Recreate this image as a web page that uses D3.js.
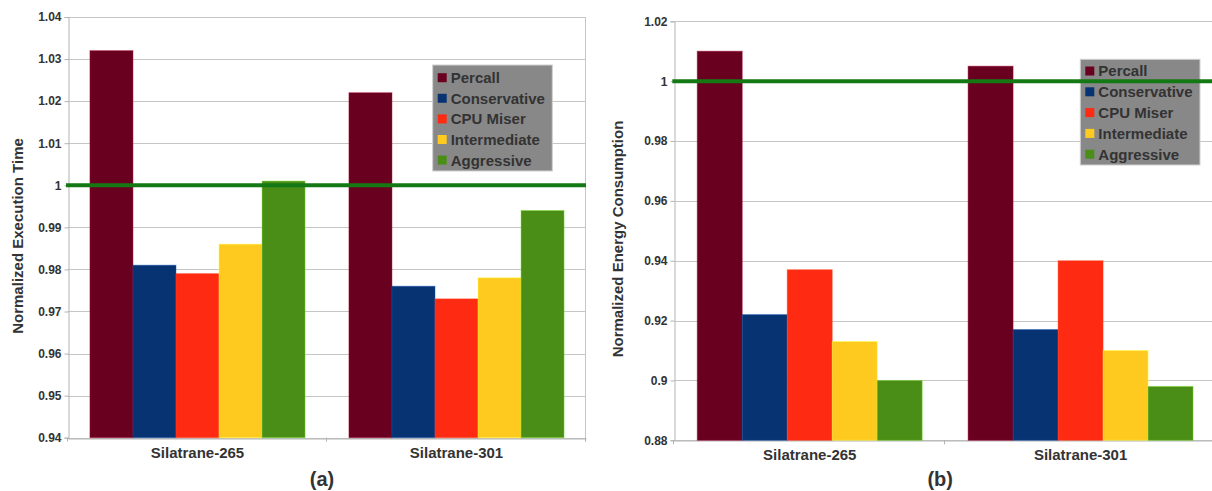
<!DOCTYPE html>
<html>
<head>
<meta charset="utf-8">
<script src="https://cdn.jsdelivr.net/npm/d3@7"></script>
<style>
  html, body { margin: 0; padding: 0; background: #ffffff; }
  svg { display: block; font-family: "Liberation Sans", Arial, sans-serif; font-weight: bold; }
</style>
</head>
<body>
<div id="chart"></div>
<script>
// data
const categories = ["Silatrane-265", "Silatrane-301"];
const seriesNames = ["Percall", "Conservative", "CPU Miser", "Intermediate", "Aggressive"];
const seriesColors = ["#69001f", "#073372", "#ff2a12", "#ffca1f", "#4a8e17"];
const timeValues = [
    [1.032, 0.981, 0.979, 0.986, 1.001],
    [1.022, 0.976, 0.973, 0.978, 0.994]
];
const energyValues = [
    [1.010, 0.922, 0.937, 0.913, 0.900],
    [1.005, 0.917, 0.940, 0.910, 0.898]
];
const timeTicks = [0.94, 0.95, 0.96, 0.97, 0.98, 0.99, 1, 1.01, 1.02, 1.03, 1.04];
const energyTicks = [0.88, 0.9, 0.92, 0.94, 0.96, 0.98, 1, 1.02];
const baseline = 1;

const width = 1212;
const height = 491;
const textColor = "#333333";

const svg = d3.select("#chart")
    .append("svg")
    .attr("width", width)
    .attr("height", height);

function drawPanel(cfg) {
    const g = svg.append("g");

    const y = d3.scaleLinear()
        .domain([cfg.ticks[0], cfg.ticks[cfg.ticks.length - 1]])
        .range([cfg.bottom, cfg.top]);

    const x = d3.scaleBand()
        .domain(categories)
        .range([cfg.left, cfg.right])
        .paddingInner(0)
        .paddingOuter(0);

    const xInner = d3.scaleBand()
        .domain(seriesNames)
        .range([0, x.bandwidth()])
        .paddingInner(0)
        .paddingOuter(0.51);

    // clip everything to the window
    // gridlines
    g.append("g")
        .selectAll("line")
        .data(cfg.ticks)
        .enter()
        .append("line")
        .attr("x1", cfg.left)
        .attr("x2", cfg.right)
        .attr("y1", d => Math.round(y(d)) + 0.5)
        .attr("y2", d => Math.round(y(d)) + 0.5)
        .attr("stroke", "#c6c6c6")
        .attr("stroke-width", 1);

    // right border
    g.append("line")
        .attr("x1", Math.round(cfg.right) - 0.5)
        .attr("x2", Math.round(cfg.right) - 0.5)
        .attr("y1", cfg.top)
        .attr("y2", cfg.bottom + 4)
        .attr("stroke", "#c6c6c6");

    // y axis
    const yAxis = g.append("g")
        .attr("transform", `translate(${Math.round(cfg.left) + 0.5},0)`)
        .call(d3.axisLeft(y)
            .tickValues(cfg.ticks)
            .tickSize(4)
            .tickPadding(3)
            .tickFormat(d => String(+d.toFixed(2))));
    yAxis.select(".domain").attr("stroke", "#b3b3b3");
    yAxis.selectAll(".tick line").attr("stroke", "#b3b3b3");
    yAxis.selectAll(".tick text")
        .attr("fill", textColor)
        .style("font-size", "12px")
        .style("font-weight", "bold")
        .style("font-family", "Liberation Sans, Arial, sans-serif");

    // x axis
    const xAxis = g.append("g")
        .attr("transform", `translate(0,${Math.round(cfg.bottom) + 0.5})`)
        .call(d3.axisBottom(x).tickSize(0).tickPadding(9).tickSizeOuter(0));
    xAxis.select(".domain").attr("stroke", "#b3b3b3");
    xAxis.selectAll(".tick text")
        .attr("fill", textColor)
        .style("font-size", "15px")
        .style("font-weight", "bold")
        .style("font-family", "Liberation Sans, Arial, sans-serif");

    // category separator ticks
    g.append("g")
        .selectAll("line")
        .data([cfg.left, x(categories[1]), cfg.right])
        .enter()
        .append("line")
        .attr("x1", d => Math.round(d) - 0.5)
        .attr("x2", d => Math.round(d) - 0.5)
        .attr("y1", cfg.bottom)
        .attr("y2", cfg.bottom + 4)
        .attr("stroke", "#b3b3b3");

    // bars
    const groups = g.append("g")
        .selectAll("g")
        .data(categories)
        .enter()
        .append("g")
        .attr("transform", d => `translate(${x(d)},0)`);

    groups.selectAll("rect")
        .data((d, i) => cfg.values[i].map((v, j) => ({ name: seriesNames[j], value: v, color: seriesColors[j] })))
        .enter()
        .append("rect")
        .attr("x", d => xInner(d.name))
        .attr("width", xInner.bandwidth())
        .attr("y", d => y(d.value))
        .attr("height", d => y(cfg.ticks[0]) - y(d.value))
        .attr("fill", d => d.color)
        .attr("stroke", d => d3.color(d.color).brighter(1.3))
        .attr("stroke-opacity", 0.45)
        .attr("stroke-width", 1);

    // legend
    const legend = g.append("g")
        .attr("transform", `translate(${cfg.legendX},${cfg.legendY})`);
    legend.append("rect")
        .attr("width", cfg.legendW)
        .attr("height", cfg.legendH)
        .attr("fill", "#888888")
        .attr("stroke", "#d0d0d0")
        .attr("stroke-width", 1);
    const items = legend.selectAll("g.item")
        .data(seriesNames)
        .enter()
        .append("g")
        .attr("class", "item")
        .attr("transform", (d, i) => `translate(5,${cfg.legendFirst + i * cfg.legendStep})`);
    items.append("rect")
        .attr("x", 0)
        .attr("y", -4.5)
        .attr("width", 9)
        .attr("height", 9)
        .attr("fill", (d, i) => seriesColors[i]);
    items.append("text")
        .attr("x", 13)
        .attr("dy", "0.36em")
        .attr("fill", textColor)
        .style("font-size", "15px")
        .text(d => d);

    // baseline at 1
    g.append("line")
        .attr("x1", cfg.left - 2)
        .attr("x2", cfg.right)
        .attr("y1", y(baseline))
        .attr("y2", y(baseline))
        .attr("stroke", "#147814")
        .attr("stroke-width", 4);

    // y label
    g.append("text")
        .attr("transform", `translate(${cfg.yLabelX},${cfg.yLabelY}) rotate(-90)`)
        .attr("text-anchor", "middle")
        .attr("dy", "0.36em")
        .attr("fill", textColor)
        .style("font-size", "15px")
        .text(cfg.yLabel);

    // panel caption
    g.append("text")
        .attr("x", x(categories[1]) - 5)
        .attr("y", 479)
        .attr("text-anchor", "middle")
        .attr("dy", "0.36em")
        .attr("fill", textColor)
        .style("font-size", "20px")
        .text(cfg.caption);
}

drawPanel({
    values: timeValues,
    ticks: timeTicks,
    left: 68, right: 586, top: 17, bottom: 437.7,
    legendX: 432.7, legendY: 65, legendW: 119.6, legendH: 106,
    legendFirst: 12.7, legendStep: 20.6,
    yLabel: "Normalized Execution Time", yLabelX: 18, yLabelY: 236,
    caption: "(a)"
});

drawPanel({
    values: energyValues,
    ticks: energyTicks,
    left: 674.3, right: 1216, top: 21.3, bottom: 440.3,
    legendX: 1080.3, legendY: 59.3, legendW: 119.7, legendH: 105.7,
    legendFirst: 11.7, legendStep: 20.8,
    yLabel: "Normalized Energy Consumption", yLabelX: 617.5, yLabelY: 239,
    caption: "(b)"
});
</script>
</body>
</html>
